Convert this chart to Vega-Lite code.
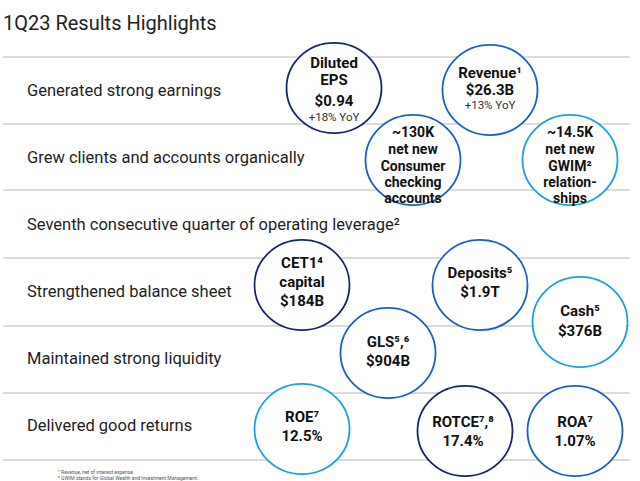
{
  "$schema": "https://vega.github.io/schema/vega-lite/v6.json",
  "width": 640,
  "height": 481,
  "autosize": {"type": "fit", "contains": "padding"},
  "padding": 0,
  "background": "white",
  "config": {"view": {"stroke": null}, "font": "Roboto"},
  "datasets": {
    "rules": [
      {"y": 57, "x0": 3, "x1": 630},
      {"y": 124, "x0": 3, "x1": 630},
      {"y": 190, "x0": 3, "x1": 630},
      {"y": 258, "x0": 3, "x1": 630},
      {"y": 326, "x0": 3, "x1": 630},
      {"y": 393, "x0": 3, "x1": 630},
      {"y": 460, "x0": 3, "x1": 630}
    ],
    "circles": [
      {"metric": "Diluted EPS", "x": 334, "y": 88, "tone": "navy"},
      {"metric": "Revenue", "x": 490, "y": 90, "tone": "blue"},
      {"metric": "Consumer checking", "x": 413, "y": 160, "tone": "blue"},
      {"metric": "GWIM relationships", "x": 570, "y": 160, "tone": "light"},
      {"metric": "CET1 capital", "x": 302, "y": 285, "tone": "navy"},
      {"metric": "Deposits", "x": 480, "y": 285, "tone": "blue"},
      {"metric": "Cash", "x": 580, "y": 322, "tone": "light"},
      {"metric": "GLS", "x": 388, "y": 353, "tone": "blue"},
      {"metric": "ROE", "x": 302, "y": 429, "tone": "light"},
      {"metric": "ROTCE", "x": 465, "y": 431, "tone": "navy"},
      {"metric": "ROA", "x": 575, "y": 431, "tone": "blue"}
    ],
    "texts": [
      {"kind": "title", "x": 3, "y": 30, "text": "1Q23 Results Highlights"},
      {"kind": "row", "x": 27, "y": 96, "text": "Generated strong earnings"},
      {"kind": "row", "x": 27, "y": 163, "text": "Grew clients and accounts organically"},
      {"kind": "row", "x": 27, "y": 230, "text": "Seventh consecutive quarter of operating leverage²"},
      {"kind": "row", "x": 27, "y": 297, "text": "Strengthened balance sheet"},
      {"kind": "row", "x": 27, "y": 364, "text": "Maintained strong liquidity"},
      {"kind": "row", "x": 27, "y": 431, "text": "Delivered good returns"},
      {"kind": "bold", "x": 334, "y": 63, "text": "Diluted"},
      {"kind": "bold", "x": 334, "y": 80, "text": "EPS"},
      {"kind": "bold", "x": 334, "y": 101, "text": "$0.94"},
      {"kind": "small", "x": 334, "y": 118, "text": "+18% YoY"},
      {"kind": "bold", "x": 490, "y": 73, "text": "Revenue¹"},
      {"kind": "bold", "x": 490, "y": 90, "text": "$26.3B"},
      {"kind": "small", "x": 490, "y": 106, "text": "+13% YoY"},
      {"kind": "dense", "x": 413, "y": 133, "text": "~130K"},
      {"kind": "dense", "x": 413, "y": 150, "text": "net new"},
      {"kind": "dense", "x": 413, "y": 167, "text": "Consumer"},
      {"kind": "dense", "x": 413, "y": 183, "text": "checking"},
      {"kind": "dense", "x": 413, "y": 199, "text": "accounts"},
      {"kind": "dense", "x": 570, "y": 133, "text": "~14.5K"},
      {"kind": "dense", "x": 570, "y": 150, "text": "net new"},
      {"kind": "dense", "x": 570, "y": 167, "text": "GWIM²"},
      {"kind": "dense", "x": 570, "y": 183, "text": "relation-"},
      {"kind": "dense", "x": 570, "y": 199, "text": "ships"},
      {"kind": "bold", "x": 302, "y": 263, "text": "CET1⁴"},
      {"kind": "bold", "x": 302, "y": 282, "text": "capital"},
      {"kind": "bold", "x": 302, "y": 301, "text": "$184B"},
      {"kind": "bold", "x": 480, "y": 273, "text": "Deposits⁵"},
      {"kind": "bold", "x": 480, "y": 292, "text": "$1.9T"},
      {"kind": "bold", "x": 580, "y": 311, "text": "Cash⁵"},
      {"kind": "bold", "x": 580, "y": 331, "text": "$376B"},
      {"kind": "bold", "x": 388, "y": 342, "text": "GLS⁵,⁶"},
      {"kind": "bold", "x": 388, "y": 361, "text": "$904B"},
      {"kind": "bold", "x": 302, "y": 417, "text": "ROE⁷"},
      {"kind": "bold", "x": 302, "y": 436, "text": "12.5%"},
      {"kind": "bold", "x": 463, "y": 422, "text": "ROTCE⁷,⁸"},
      {"kind": "bold", "x": 463, "y": 441, "text": "17.4%"},
      {"kind": "bold", "x": 575, "y": 422, "text": "ROA⁷"},
      {"kind": "bold", "x": 575, "y": 441, "text": "1.07%"},
      {"kind": "foot", "x": 58, "y": 474, "text": "¹ Revenue, net of interest expense."},
      {"kind": "foot", "x": 58, "y": 480, "text": "² GWIM stands for Global Wealth and Investment Management."}
    ]
  },
  "encoding": {
    "x": {"field": "x", "type": "quantitative", "scale": {"domain": [0, 640]}, "axis": null},
    "y": {"field": "y", "type": "quantitative", "scale": {"domain": [0, 481], "reverse": true}, "axis": null}
  },
  "layer": [
    {
      "data": {"name": "rules"},
      "mark": {"type": "rule", "color": "#cfcfcf", "strokeWidth": 1.5},
      "encoding": {
        "x": {"field": "x0", "type": "quantitative", "scale": {"domain": [0, 640]}, "axis": null},
        "x2": {"field": "x1"},
        "y": {"field": "y", "type": "quantitative", "scale": {"domain": [0, 481], "reverse": true}, "axis": null}
      }
    },
    {
      "data": {"name": "circles"},
      "mark": {"type": "point", "shape": "M-1,0A1,0.95,0,1,1,1,0A1,0.95,0,1,1,-1,0Z", "size": 9025, "filled": false, "fill": "white", "fillOpacity": 1, "strokeWidth": 1.8, "opacity": 1},
      "encoding": {
        "stroke": {"field": "tone", "type": "nominal", "scale": {"domain": ["navy", "blue", "light"], "range": ["#13286b", "#1b5fc8", "#1c9fe2"]}, "legend": null}
      }
    },
    {
      "data": {"name": "texts"},
      "transform": [{"filter": "datum.kind === 'title'"}],
      "mark": {"type": "text", "align": "left", "baseline": "alphabetic", "fontSize": 20, "color": "#222222"},
      "encoding": {"text": {"field": "text"}}
    },
    {
      "data": {"name": "texts"},
      "transform": [{"filter": "datum.kind === 'row'"}],
      "mark": {"type": "text", "align": "left", "baseline": "alphabetic", "fontSize": 16.5, "color": "#1e1e1e"},
      "encoding": {"text": {"field": "text"}}
    },
    {
      "data": {"name": "texts"},
      "transform": [{"filter": "datum.kind === 'bold'"}],
      "mark": {"type": "text", "align": "center", "baseline": "middle", "fontSize": 15, "fontWeight": "bold", "color": "#111111"},
      "encoding": {"text": {"field": "text"}}
    },
    {
      "data": {"name": "texts"},
      "transform": [{"filter": "datum.kind === 'dense'"}],
      "mark": {"type": "text", "align": "center", "baseline": "middle", "fontSize": 14, "fontWeight": "bold", "color": "#111111"},
      "encoding": {"text": {"field": "text"}}
    },
    {
      "data": {"name": "texts"},
      "transform": [{"filter": "datum.kind === 'small'"}],
      "mark": {"type": "text", "align": "center", "baseline": "middle", "fontSize": 11.5, "color": "#333333"},
      "encoding": {"text": {"field": "text"}}
    },
    {
      "data": {"name": "texts"},
      "transform": [{"filter": "datum.kind === 'foot'"}],
      "mark": {"type": "text", "align": "left", "baseline": "alphabetic", "fontSize": 5, "color": "#555555"},
      "encoding": {"text": {"field": "text"}}
    }
  ]
}
